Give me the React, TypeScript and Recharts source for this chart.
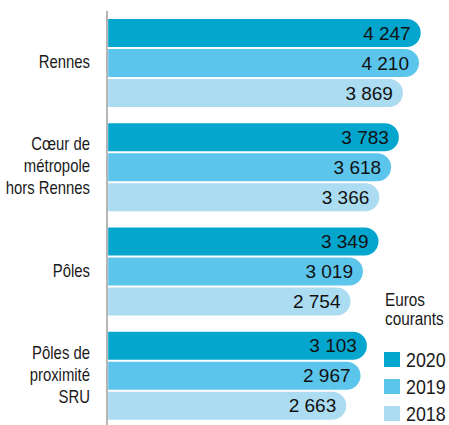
import React from 'react';
import { BarChart, Bar, XAxis, YAxis, LabelList, Legend } from 'recharts';

const CATEGORIES = ['Rennes', 'Cœur de\nmétropole\nhors Rennes', 'Pôles', 'Pôles de\nproximité\nSRU'];
const VALUES_2020 = [4247, 3783, 3349, 3103];
const VALUES_2019 = [4210, 3618, 3019, 2967];
const VALUES_2018 = [3869, 3366, 2754, 2663];
const YEARS = ['2020', '2019', '2018'];
const COLORS = ['#04a6cd', '#5cc5ec', '#abdcf1'];
const UNIT_LINES = ['Euros', 'courants'];

const AXIS_MIN = -2425;
const BAR_BASE = -2400;
const AXIS_MAX = 4700;

const FONT = '"Liberation Sans", Arial, sans-serif';
const NARROW_SCALE = 0.85;

const data = CATEGORIES.map((name, i) => ({
  name,
  v2020: VALUES_2020[i],
  v2019: VALUES_2019[i],
  v2018: VALUES_2018[i],
}));

const KEYS = ['v2020', 'v2019', 'v2018'];

const fmt = (v: any) => {
  const n = Array.isArray(v) ? v[1] : Number(v);
  const th = Math.floor(n / 1000);
  const rest = String(n % 1000).padStart(3, '0');
  return th > 0 ? `${th} ${rest}` : String(n);
};

const CategoryTick = (props: any) => {
  const { x, y, payload } = props;
  const lines = String(payload.value).split('\n');
  const lh = 22;
  const start = -((lines.length - 1) / 2) * lh - 1;
  return (
    <text
      x={x}
      y={y}
      textAnchor="end"
      fontFamily={FONT}
      fontSize={17.5}
      fill="#1a1a1a"
      transform={`translate(${x},0) scale(${NARROW_SCALE},1) translate(${-x},0)`}
    >
      {lines.map((l, i) => (
        <tspan key={i} x={x} dy={i === 0 ? start + 6 : lh}>
          {l}
        </tspan>
      ))}
    </text>
  );
};

const narrowSpan: React.CSSProperties = {
  display: 'inline-block',
  transform: `scaleX(${NARROW_SCALE})`,
  transformOrigin: 'left center',
  whiteSpace: 'nowrap',
};

const LegendContent = (props: any) => {
  const payload = [...(props.payload || [])].sort(
    (a: any, b: any) => YEARS.indexOf(String(a.value)) - YEARS.indexOf(String(b.value))
  );
  return (
    <div style={{ fontFamily: FONT, color: '#1a1a1a' }}>
      <div style={{ fontSize: 18, lineHeight: '19px', marginLeft: 1, marginBottom: 17 }}>
        {UNIT_LINES.map((l) => (
          <div key={l} style={{ height: 19 }}>
            <span style={narrowSpan}>{l}</span>
          </div>
        ))}
      </div>
      {payload.map((p: any) => (
        <div key={p.value} style={{ display: 'flex', alignItems: 'center', height: 27, whiteSpace: 'nowrap' }}>
          <span style={{ display: 'inline-block', width: 16, height: 15, background: p.color, marginRight: 6, flex: 'none' }} />
          <span style={{ ...narrowSpan, fontSize: 21, lineHeight: '24px' }}>{p.value}</span>
        </div>
      ))}
    </div>
  );
};

export default function App() {
  return (
    <div style={{ position: 'fixed', left: 0, top: 0, width: 449, height: 425, overflow: 'hidden', background: '#fff' }}>
      <BarChart
        width={449}
        height={428}
        data={data}
        layout="vertical"
        margin={{ top: 11, right: 7, bottom: 0, left: 0 }}
        barSize={28}
        barGap={2}
      >
        <XAxis type="number" domain={[AXIS_MIN, AXIS_MAX]} hide allowDataOverflow />
        <YAxis
          type="category"
          dataKey="name"
          width={107}
          tickLine={false}
          tickSize={0}
          tickMargin={17}
          axisLine={{ stroke: '#9e9e9e', strokeWidth: 1.5 }}
          tick={<CategoryTick />}
          interval={0}
        />
        <Legend
          layout="vertical"
          align="center"
          verticalAlign="middle"
          content={<LegendContent />}
          wrapperStyle={{ position: 'absolute', left: 384, top: 291, width: 65 }}
        />
        {KEYS.map((k, i) => (
          <Bar
            key={k}
            name={YEARS[i]}
            dataKey={(d: any) => [BAR_BASE, d[k]]}
            fill={COLORS[i]}
            radius={[0, 14, 14, 0]}
            isAnimationActive={false}
          >
            <LabelList
              dataKey={k}
              position="insideRight"
              offset={10}
              formatter={fmt}
              fill="#111"
              fontSize={19}
              fontFamily={FONT}
            />
          </Bar>
        ))}
      </BarChart>
    </div>
  );
}
